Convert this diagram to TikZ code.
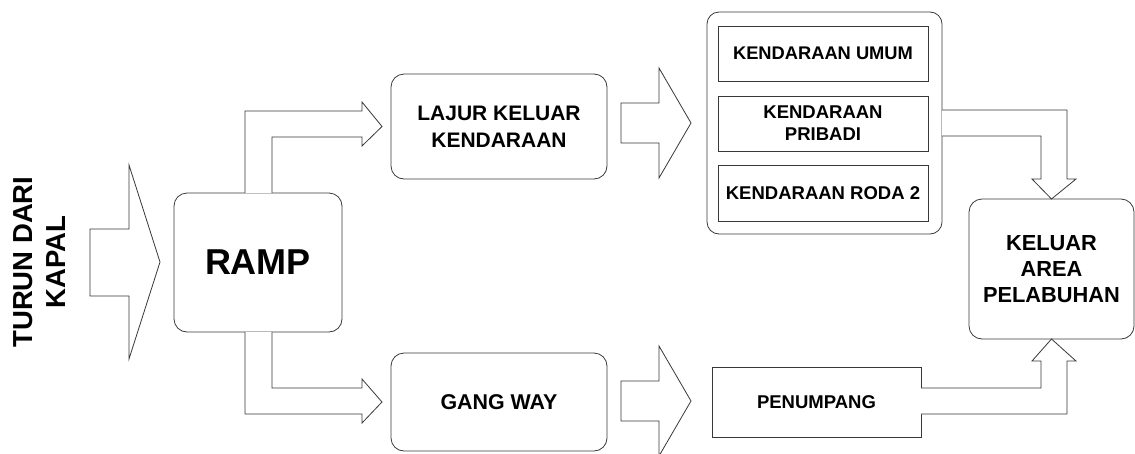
\documentclass[tikz,border=0pt]{standalone}
\usepackage{fontspec}
\setmainfont{Liberation Sans}
\begin{document}
\begin{tikzpicture}[x=1pt,y=-1pt,
  line/.style={draw=black!78,line width=0.8pt,line join=miter},
  rbox/.style={line,rounded corners=13pt,inner sep=0pt,outer sep=0pt,align=center,font=\bfseries},
  sbox/.style={line,inner sep=0pt,outer sep=0pt,align=center,font=\bfseries},
  blockarrow/.style={line,fill=white}]
\useasboundingbox (0,0) rectangle (1135,453);

% nodes
\node[rbox,minimum width=168pt,minimum height=139pt,font=\bfseries\fontsize{36}{40}\selectfont] (ramp) at (258,262.5) {RAMP};
\node[rbox,minimum width=216pt,minimum height=105pt,font=\bfseries\fontsize{21}{27}\selectfont] (lajur) at (499,126.5) {LAJUR KELUAR\\KENDARAAN};
\node[rbox,minimum width=216pt,minimum height=98pt,font=\bfseries\fontsize{21.4}{26}\selectfont] (gang) at (499,402) {GANG WAY};
\node[rbox,rounded corners=12pt,minimum width=235pt,minimum height=222pt] (group) at (824.5,123) {};
\node[sbox,minimum width=210pt,minimum height=55pt,font=\bfseries\fontsize{18.3}{22}\selectfont] (umum) at (823,53.5) {KENDARAAN UMUM};
\node[sbox,minimum width=210pt,minimum height=55pt,font=\bfseries\fontsize{18.5}{22}\selectfont] (pribadi) at (823,123.5) {KENDARAAN\\PRIBADI};
\node[sbox,minimum width=210pt,minimum height=56pt,font=\bfseries\fontsize{18.5}{22}\selectfont] (roda) at (823,193) {KENDARAAN RODA 2};
\node[rbox,minimum width=165pt,minimum height=140pt,font=\bfseries\fontsize{21.8}{26}\selectfont] (keluar) at (1051.5,269) {KELUAR\\AREA\\PELABUHAN};
\node[sbox,minimum width=209pt,minimum height=70pt,font=\bfseries\fontsize{18.5}{22}\selectfont] (penumpang) at (816.5,402) {PENUMPANG};
\node[rotate=90,align=center,inner sep=0pt,font=\bfseries\fontsize{27.5}{33}\selectfont] (turun) at (40,262) {TURUN DARI\\KAPAL};

% input arrow into RAMP
\draw[blockarrow] (90,229) -- (129,229) -- (129,165) -- (160,262) -- (129,359) -- (129,296) -- (90,296) -- cycle;

% RAMP -> LAJUR KELUAR
\draw[blockarrow] (245,0 |- ramp.north) -- (245,111) -- (362,111) -- (362,102) -- (lajur.west -| 382,0) -- (362,146) -- (362,137) -- (272,137) -- (272,0 |- ramp.north);
% RAMP -> GANG WAY
\draw[blockarrow] (245,0 |- ramp.south) -- (245,414) -- (362,414) -- (362,423) -- (gang.west -| 382,0) -- (362,379) -- (362,388) -- (272,388) -- (272,0 |- ramp.south);

% LAJUR -> group
\draw[blockarrow] (621,103) -- (659,103) -- (659,68) -- (691,123) -- (659,178) -- (659,143) -- (621,143) -- cycle;
% GANG WAY -> PENUMPANG
\draw[blockarrow] (621,381) -- (659,381) -- (659,346) -- (691,401) -- (659,456) -- (659,421) -- (621,421) -- cycle;

% group -> KELUAR
\draw[blockarrow] (group.east |- 0,110) -- (1067,110) -- (1067,179) -- (1076,179) -- (keluar.north) -- (1032,179) -- (1041,179) -- (1041,136) -- (group.east |- 0,136);
% PENUMPANG -> KELUAR
\draw[blockarrow] (penumpang.east |- 0,414) -- (1067,414) -- (1067,361) -- (1076,361) -- (keluar.south) -- (1032,361) -- (1041,361) -- (1041,388) -- (penumpang.east |- 0,388);
\end{tikzpicture}
\end{document}
